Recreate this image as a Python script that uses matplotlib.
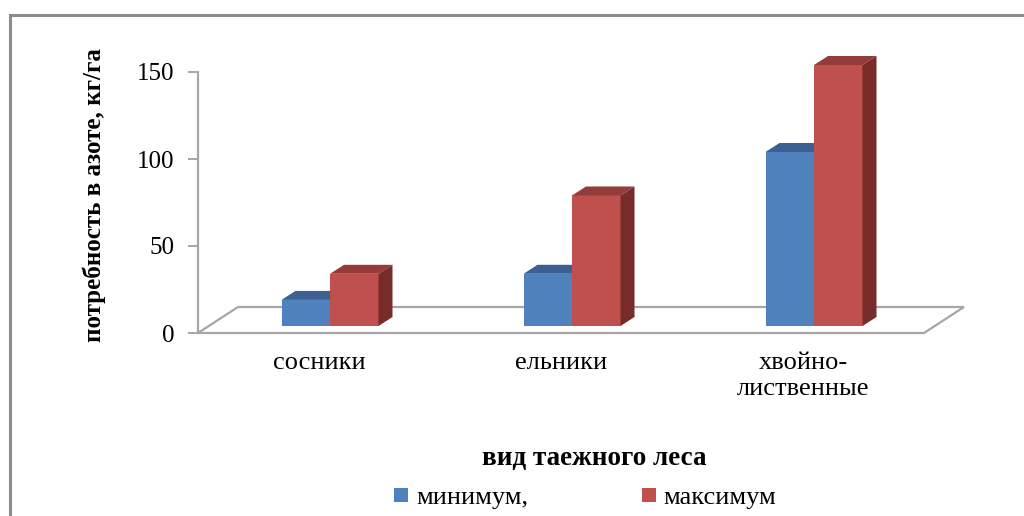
import matplotlib
matplotlib.use("Agg")
import matplotlib.pyplot as plt
from matplotlib.patches import Polygon
from matplotlib.lines import Line2D

# ---- data ----
categories = ["сосники", "ельники", "хвойно-\nлиственные"]
minimum = [15, 30, 100]
maximum = [30, 75, 150]
series_names = ["минимум,", "максимум"]
yticks = [0, 50, 100, 150]
ylabel = "потребность в азоте, кг/га"
xlabel = "вид таежного леса"

# ---- style ----
W, H, DPI = 1024, 516, 100
plt.rcParams['font.family'] = ['Liberation Serif', 'DejaVu Serif']
front_cols = ["#4F81BD", "#C0504D"]
top_cols = ["#3C6190", "#943C3A"]
side_cols = ["#385D8A", "#772C2A"]
grey = "#A6A6A6"

fig = plt.figure(figsize=(W / DPI, H / DPI), dpi=DPI)

# axes in pixel geometry (front plane)
ax_l, ax_r, ax_t, ax_b = 198, 924, 72, 333
ax = fig.add_axes([ax_l / W, 1 - ax_b / H, (ax_r - ax_l) / W, (ax_b - ax_t) / H])
ax.set_xlim(-0.5, 2.5)
ax.set_ylim(0, 150)
px_x = (ax_r - ax_l) / 3.0          # pixels per category unit
px_y = (ax_b - ax_t) / 150.0        # pixels per value unit

# depth offsets (pixels -> data)
floor_dx, floor_dy = 40 / px_x, 26 / px_y
bar_fx, bar_fy = 11 / px_x, 7 / px_y      # front face of bars behind front plane
bar_ddx, bar_ddy = 14 / px_x, 9 / px_y    # depth of each bar
bw = 48.5 / px_x

# floor
floor = Polygon([(-0.5, 0), (2.5, 0), (2.5 + floor_dx, floor_dy), (-0.5 + floor_dx, floor_dy)],
                closed=True, facecolor="white", edgecolor=grey, lw=1.6, zorder=1, clip_on=False)
ax.add_patch(floor)

def bar3d(xc_left, v, k):
    x0 = xc_left + bar_fx
    x1 = x0 + bw
    z0 = bar_fy
    z1 = v + bar_fy
    ax.bar(x0, v, width=bw, bottom=z0, align='edge', color=front_cols[k], lw=0,
           zorder=3 + k, clip_on=False)
    top = Polygon([(x0, z1), (x1, z1), (x1 + bar_ddx, z1 + bar_ddy), (x0 + bar_ddx, z1 + bar_ddy)],
                  closed=True, facecolor=top_cols[k], lw=0, zorder=3 + k, clip_on=False)
    side = Polygon([(x1, z0), (x1 + bar_ddx, z0 + bar_ddy), (x1 + bar_ddx, z1 + bar_ddy), (x1, z1)],
                   closed=True, facecolor=side_cols[k], lw=0, zorder=3 + k, clip_on=False)
    ax.add_patch(top)
    ax.add_patch(side)

for i in range(len(categories)):
    bar3d(i - bw, minimum[i], 0)
    bar3d(i, maximum[i], 1)

# axes styling
for s in ["top", "right", "bottom"]:
    ax.spines[s].set_visible(False)
ax.spines["left"].set_color(grey)
ax.spines["left"].set_linewidth(1.6)
ax.set_yticks(yticks)
ax.set_yticklabels([str(t) for t in yticks])
ax.tick_params(axis='y', direction='out', length=7, width=1.4, color=grey, pad=10,
               labelsize=18)
ax.set_xticks(range(len(categories)))
ax.set_xticklabels(categories)
ax.tick_params(axis='x', length=0, pad=14, labelsize=19)
ax.set_ylabel(ylabel, fontsize=18, fontweight='bold')
ax.yaxis.set_label_coords((106 - ax_l) / (ax_r - ax_l), (ax_b - 195) / (ax_b - ax_t))
ax.set_facecolor("none")

# x title
fig.text(594 / W, 1 - 458 / H, xlabel, ha='center', va='center', fontsize=19.5, fontweight='bold')

# legend
handles = [Line2D([], [], marker='s', ls='', markersize=9.5, markerfacecolor=c, markeredgewidth=0)
           for c in front_cols]
fig.legend(handles, series_names, loc='center', bbox_to_anchor=(585 / W, 1 - 497 / H), ncol=2,
           frameon=False, fontsize=19, columnspacing=4.3, handletextpad=0.25, handlelength=0.6)

# outer border (left & top visible)
fig.add_artist(Line2D([10 / W, 10 / W], [0, 1 - 15 / H], color="#8C8C8C", lw=2.2))
fig.add_artist(Line2D([10 / W, 1], [1 - 15 / H, 1 - 15 / H], color="#8C8C8C", lw=2.2))

fig.savefig("out.png", dpi=DPI)
